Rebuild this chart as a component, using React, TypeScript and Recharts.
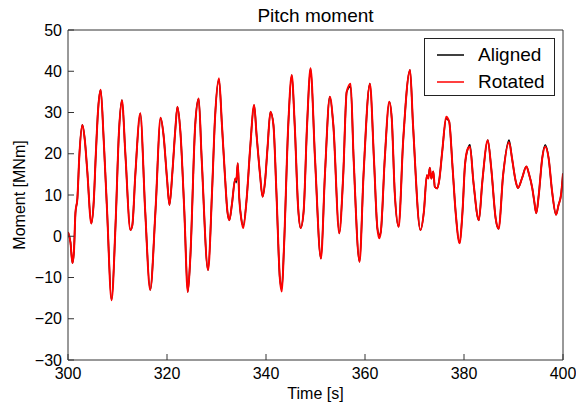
import React from "react";
import { LineChart, Line, XAxis, YAxis, Legend } from "recharts";

const time = [
  300.0, 300.5, 300.9, 301.2, 301.5, 301.9, 302.3, 302.9, 303.4, 303.9,
  304.7, 305.2, 305.6, 306.1, 306.6, 307.2, 307.9, 308.8, 309.6, 310.3,
  310.9, 311.6, 312.6, 313.0, 313.6, 314.6, 315.6, 316.6, 317.7, 318.7,
  319.3, 320.0, 320.5, 321.1, 321.7, 322.1, 322.7, 323.5, 324.2, 324.7,
  325.7, 326.4, 327.0, 328.3, 329.1, 329.7, 330.5, 331.1, 331.7, 332.2,
  332.6, 333.1, 333.8, 334.0, 334.3, 334.6, 335.0, 335.4, 336.1, 336.8,
  337.6, 338.1, 338.8, 339.3, 339.8, 340.3, 340.9, 341.5, 342.1, 342.8,
  343.2, 343.6, 344.5, 345.2, 345.8, 346.5, 347.0, 347.6, 348.3, 349.0,
  349.9, 351.1, 351.9, 352.9, 353.6, 354.8, 355.6, 356.3, 357.1, 357.7,
  358.9, 359.7, 361.0, 361.8, 362.5, 362.9, 363.2, 364.0, 364.9, 365.4,
  366.0, 366.8, 367.7, 369.1, 369.7, 371.2, 371.9, 372.5, 372.8, 373.1,
  373.4, 373.8, 374.1, 374.6, 375.0, 375.6, 376.4, 377.0, 377.7, 378.3,
  379.1, 379.7, 380.2, 380.8, 381.2, 381.9, 383.0, 383.7, 384.8, 385.5,
  386.4, 387.0, 387.9, 389.1, 389.7, 390.4, 390.9, 391.7, 392.6, 393.1,
  393.8, 394.2, 394.6, 395.1, 395.8, 396.4, 397.1, 397.8, 398.6, 399.1,
  399.6, 400.0,
];

const rotated = [
  1, -1.5, -6.5, -3.7, 5.6, 9.2, 19.7, 27, 23.3, 15.7,
  3.1, 8.4, 19.3, 31, 35.5, 23.7, 6, -15.5, 2.7, 25.4,
  33, 19.7, 1.5, 2.7, 14.9, 29.8, 6, -13, 6.8, 28.7,
  24.5, 14, 7.6, 15.7, 26.2, 31.4, 25.4, 6, -13.5, -5.4,
  27, 33.4, 18.9, -8.2, 10.8, 28.6, 38.3, 27, 14.8, 6,
  3.9, 7.6, 14, 13.6, 17.7, 9.2, 4.3, 2, 9.2, 21.3,
  31.8, 24.5, 14.9, 9.6, 13.2, 21.3, 30.2, 27, 10.8, -10.2,
  -13.4, -3.7, 27, 39.1, 27, 6.8, 2, 6, 27, 40.7,
  18.9, -5.4, 14.8, 33.8, 27, 0.7, 14.8, 35, 37, 18.9,
  -6.2, 14.8, 37, 18.9, 1.9, -0.5, 1.1, 18.9, 32.6, 28.6,
  10.8, 2.3, 22.9, 40.3, 27, 1.5, 6, 14.8, 14, 16.6,
  14, 15.7, 12, 11.6, 13.6, 20.5, 29, 27.8, 16.5, 6,
  -1.7, 6, 17.3, 21.3, 21.7, 13.2, 3.9, 13.2, 23.3, 16.5,
  4.3, 1.8, 14.8, 22.8, 18.9, 13.6, 11.7, 14, 16.9, 15.2,
  11.6, 8.4, 5.6, 10, 18.9, 21.7, 18.9, 10.8, 5.2, 7.6,
  10, 15.2,
];

const aligned = [
  1, -1.5, -6.5, -3.7, 5.6, 9.2, 19.7, 27, 23.3, 15.7,
  3.1, 8.4, 19.3, 31, 35.5, 23.7, 6, -15.5, 2.7, 25.4,
  33, 19.7, 1.5, 2.7, 14.9, 29.8, 6, -13, 6.8, 28.7,
  24.5, 14, 7.6, 15.7, 26.2, 31.4, 25.4, 6, -13.5, -5.4,
  27, 33.4, 18.9, -8.2, 10.8, 28.6, 38.0, 27, 14.8, 6,
  3.9, 7.6, 14, 13.0, 17.7, 9.2, 4.3, 2.6, 9.2, 21.3,
  31.8, 24.5, 14.9, 9.6, 13.2, 21.3, 30.2, 27, 10.8, -10.2,
  -12.6, -3.7, 27, 39.1, 27, 6.8, 2, 6, 27, 40.7,
  18.9, -5.4, 14.8, 33.8, 27, 0.7, 14.8, 35, 36.3, 18.9,
  -6.2, 14.8, 37, 18.9, 1.9, 0.3, 1.1, 18.9, 32.6, 28.6,
  10.8, 2.3, 22.9, 40.3, 27, 1.5, 6, 14.8, 14.5, 16.6,
  14, 15.7, 12, 11.6, 13.6, 20.5, 28.5, 27.8, 16.5, 6,
  -1.7, 6, 17.3, 21.3, 22.2, 13.2, 3.9, 13.2, 23.3, 16.5,
  4.3, 1.8, 14.8, 23.3, 18.9, 13.6, 11.7, 14, 16.9, 15.2,
  11.6, 8.4, 5.6, 10, 18.9, 22.2, 18.9, 10.8, 5.2, 7.6,
  10, 15.2,
];

const xTicks = [300, 320, 340, 360, 380, 400];
const yTicks = [-30, -20, -10, 0, 10, 20, 30, 40, 50];

const rows = time.map((t, i) => ({ t, aligned: aligned[i], rotated: rotated[i] }));

const font = "'Liberation Sans', Arial, sans-serif";
const fmtY = (v: number) => (v < 0 ? "\u2212" + Math.abs(v) : String(v));

function LegendBox({ payload }: any) {
  return (
    <div
      style={{
        border: "1.5px solid #222",
        background: "#fff",
        boxSizing: "border-box",
        width: 131,
        height: 58,
        padding: "2px 0 0 12px",
        fontFamily: font,
        fontSize: 19,
      }}
    >
      {(payload || []).map((p: any) => (
        <div key={p.value} style={{ display: "flex", alignItems: "center", height: 27 }}>
          <svg width={27} height={10} style={{ marginRight: 14 }}>
            <line x1={0} y1={5} x2={27} y2={5} stroke={p.color} strokeWidth={1.5} />
          </svg>
          <span style={{ color: "#000" }}>{p.value}</span>
        </div>
      ))}
    </div>
  );
}

export default function App() {
  return (
    <div style={{ position: "absolute", left: 0, top: 0, width: 576, height: 405, background: "#fff" }}>
      <div
        style={{
          position: "absolute",
          top: 5,
          left: 68,
          width: 495,
          textAlign: "center",
          fontFamily: font,
          fontSize: 19,
          color: "#000",
        }}
      >
        Pitch moment
      </div>
      <LineChart
        width={576}
        height={405}
        data={rows}
        margin={{ top: 29, right: 12, bottom: 0, left: 0 }}
        style={{ fontFamily: font }}
      >
        <XAxis
          xAxisId="b"
          dataKey="t"
          type="number"
          domain={[300, 400]}
          ticks={xTicks}
          height={45}
          tickSize={-6}
          tickMargin={14}
          stroke="#333"
          tick={{ fill: "#000", fontSize: 16 }}
          allowDataOverflow
          label={{ value: "Time [s]", position: "insideBottom", offset: 6, fill: "#000", fontSize: 16 }}
        />
        <XAxis
          xAxisId="t"
          orientation="top"
          dataKey="t"
          type="number"
          domain={[300, 400]}
          ticks={xTicks}
          height={1}
          tickSize={-6}
          stroke="#333"
          tick={false}
        />
        <YAxis
          yAxisId="l"
          type="number"
          domain={[-30, 50]}
          ticks={yTicks}
          width={68}
          tickSize={-6}
          tickMargin={12}
          stroke="#333"
          tickFormatter={fmtY}
          tick={{ fill: "#000", fontSize: 16 }}
          allowDataOverflow
          label={{
            position: "center",
            content: () => (
              <text
                x={19}
                y={195}
                transform="rotate(-90 19 195)"
                textAnchor="middle"
                dominantBaseline="central"
                fill="#000"
                fontSize={16}
                fontFamily={font}
              >
                Moment [MNm]
              </text>
            ),
          }}
        />
        <YAxis
          yAxisId="r"
          orientation="right"
          type="number"
          domain={[-30, 50]}
          ticks={yTicks}
          width={1}
          tickSize={-6}
          stroke="#333"
          tick={false}
        />
        <Legend
          content={<LegendBox />}
          layout="horizontal"
          verticalAlign="middle"
          align="center"
          wrapperStyle={{ top: 38, left: 424, width: 131, height: 58 }}
        />
        <Line
          xAxisId="b"
          yAxisId="l"
          type="monotone"
          dataKey="aligned"
          name="Aligned"
          stroke="#000"
          strokeWidth={1.6}
          dot={false}
          isAnimationActive={false}
        />
        <Line
          xAxisId="b"
          yAxisId="l"
          type="monotone"
          dataKey="rotated"
          name="Rotated"
          stroke="#ff0000"
          strokeWidth={2}
          dot={false}
          isAnimationActive={false}
        />
      </LineChart>
    </div>
  );
}
